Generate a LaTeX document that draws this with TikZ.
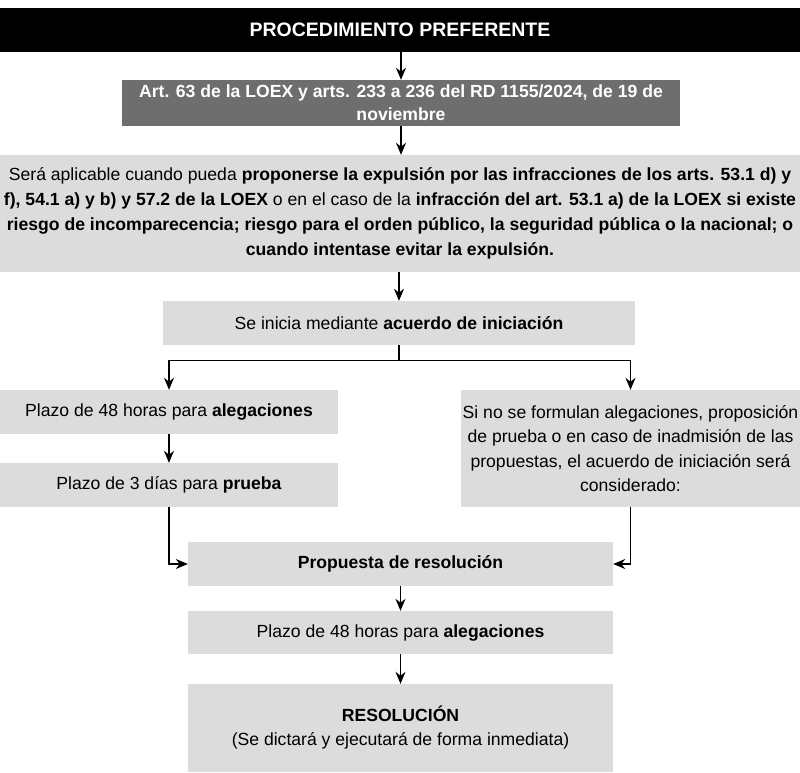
\documentclass[tikz,border=0pt]{standalone}
\usepackage{fontspec}
\setmainfont{Liberation Sans}
\usetikzlibrary{arrows.meta,calc}
\definecolor{darkbox}{HTML}{6E6E6E}
\definecolor{lightbox}{HTML}{DCDCDC}
\tikzset{
  box/.style={rectangle, fill=lightbox, inner sep=0pt, align=center, text=black,
    font=\fontsize{17.6}{23.5}\selectfont},
  arr/.style={draw=black, line width=1.4pt, -{Stealth[length=12pt,width=10pt]}},
  ln/.style={draw=black, line width=1.4pt},
}
\newcommand{\bx}[1]{\textbf{#1}}
\begin{document}
\begin{tikzpicture}[x=1pt,y=-1pt]
\useasboundingbox (0,0) rectangle (800,773);
\fill[white] (0,0) rectangle (800,773);
% title
\node[box, fill=black, text=white, minimum width=800pt, minimum height=44pt,
  font=\fontsize{19.5}{23}\selectfont\bfseries] (title) at (400,30) {PROCEDIMIENTO PREFERENTE};
% legal basis
\node[box, fill=darkbox, text=white, minimum width=558pt, minimum height=46pt,
  font=\fontsize{17.6}{23}\selectfont\bfseries] (art) at (401,103)
  {Art. 63 de la LOEX y arts. 233 a 236 del RD 1155/2024, de 19 de\\noviembre};
% applicability
\node[box, minimum width=800pt, minimum height=117pt, font=\fontsize{17.6}{25}\selectfont] (big) at (400,213.5)
  {Será aplicable cuando pueda \bx{proponerse la expulsión por las infracciones de los arts. 53.1 d) y}\\
   \bx{f), 54.1 a) y b) y 57.2 de la LOEX} o en el caso de la \bx{infracción del art. 53.1 a) de la LOEX si existe}\\
   \bx{riesgo de incomparecencia; riesgo para el orden público, la seguridad pública o la nacional; o}\\
   \bx{cuando intentase evitar la expulsión.}};
% start
\node[box, minimum width=472pt, minimum height=44pt] (ini) at (399,323)
  {Se inicia mediante \bx{acuerdo de iniciación}};
% left branch
\node[box, minimum width=338pt, minimum height=44pt] (l1) at (169,412)
  {Plazo de 48 horas para \bx{alegaciones}};
\node[box, minimum width=338pt, minimum height=44pt] (l2) at (169,485)
  {Plazo de 3 días para \bx{prueba}};
% right branch
\node[box, minimum width=339pt, minimum height=117pt, font=\fontsize{17.6}{24.5}\selectfont] (r) at (630.5,448.5)
  {Si no se formulan alegaciones, proposición\\de prueba o en caso de inadmisión de las\\propuestas, el acuerdo de iniciación será\\considerado:};
% proposal
\node[box, minimum width=425pt, minimum height=44pt] (prop) at (400.5,564)
  {\bx{Propuesta de resolución}};
\node[box, minimum width=425pt, minimum height=43pt] (pl) at (400.5,632.5)
  {Plazo de 48 horas para \bx{alegaciones}};
\node[box, minimum width=425pt, minimum height=88pt, font=\fontsize{17.6}{24}\selectfont] (res) at (400.5,728)
  {\bx{RESOLUCIÓN}\\(Se dictará y ejecutará de forma inmediata)};
% connectors
\draw[arr] (title.south -| art.north) -- (art.north);
\draw[arr] (art.south) -- (art.south |- big.north);
\draw[arr] (big.south -| ini.north) -- (ini.north);
\coordinate (fork) at ($(ini.south)+(0,15)$);
\draw[ln] (ini.south) -- (fork);
\draw[arr] (fork) -| (l1.north);
\draw[arr] (fork) -| (r.north);
\draw[arr] (l1.south) -- (l2.north);
\draw[arr] (l2.south) |- (prop.west);
\draw[arr] (r.south) |- (prop.east);
\draw[arr] (prop.south -| pl.north) -- (pl.north);
\draw[arr] (pl.south) -- (res.north);
\end{tikzpicture}
\end{document}
